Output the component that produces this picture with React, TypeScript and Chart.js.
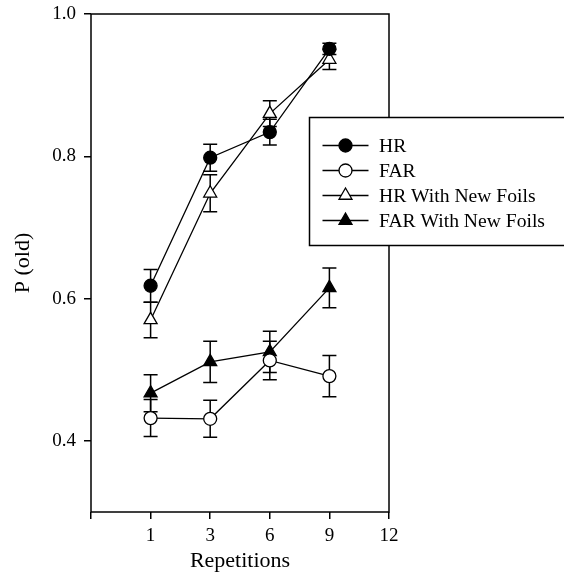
import React, { useEffect, useRef } from "react";
import { Chart, registerables } from "chart.js";

Chart.register(...registerables);

const categories = ["1", "3", "6", "9"];
const xTickLabels = ["", "1", "3", "6", "9", "12"];
const yTicks = [0.4, 0.6, 0.8, 1.0];

const hr = [0.618, 0.798, 0.834, 0.951];
const hrErr = [0.023, 0.019, 0.018, 0.008];
const far = [0.432, 0.431, 0.513, 0.491];
const farErr = [0.026, 0.026, 0.027, 0.029];
const hrNew = [0.57, 0.748, 0.86, 0.936];
const hrNewErr = [0.025, 0.026, 0.018, 0.014];
const farNew = [0.467, 0.511, 0.525, 0.615];
const farNewErr = [0.026, 0.029, 0.029, 0.028];

const FONT = "'Liberation Serif', 'Times New Roman', serif";

type Series = {
  label: string;
  values: number[];
  errs: number[];
  style: "circle" | "triangle";
  filled: boolean;
};

const series: Series[] = [
  { label: "HR", values: hr, errs: hrErr, style: "circle", filled: true },
  { label: "FAR", values: far, errs: farErr, style: "circle", filled: false },
  { label: "HR With New Foils", values: hrNew, errs: hrNewErr, style: "triangle", filled: false },
  { label: "FAR With New Foils", values: farNew, errs: farNewErr, style: "triangle", filled: true },
];

function drawMarker(ctx: CanvasRenderingContext2D, style: string, filled: boolean, x: number, y: number, r: number) {
  ctx.beginPath();
  if (style === "circle") {
    ctx.arc(x, y, r, 0, Math.PI * 2);
  } else {
    let rad = 0;
    ctx.moveTo(x + Math.sin(rad) * r, y - Math.cos(rad) * r);
    rad += (2 * Math.PI) / 3;
    ctx.lineTo(x + Math.sin(rad) * r, y - Math.cos(rad) * r);
    rad += (2 * Math.PI) / 3;
    ctx.lineTo(x + Math.sin(rad) * r, y - Math.cos(rad) * r);
    ctx.closePath();
  }
  ctx.fillStyle = filled ? "#000" : "#fff";
  ctx.fill();
  ctx.lineWidth = 1.3;
  ctx.strokeStyle = "#000";
  ctx.stroke();
}

const errorBarPlugin = {
  id: "errorBars",
  beforeDatasetsDraw(chart: any) {
    const ctx = chart.ctx;
    const xs = chart.scales.x;
    const ys = chart.scales.y;
    ctx.save();
    ctx.strokeStyle = "#000";
    ctx.lineWidth = 1.5;
    series.forEach((s) => {
      s.values.forEach((v, i) => {
        const px = xs.getPixelForValue(i + 1);
        const top = ys.getPixelForValue(v + s.errs[i]);
        const bot = ys.getPixelForValue(v - s.errs[i]);
        ctx.beginPath();
        ctx.moveTo(px, top);
        ctx.lineTo(px, bot);
        ctx.moveTo(px - 7, top);
        ctx.lineTo(px + 7, top);
        ctx.moveTo(px - 7, bot);
        ctx.lineTo(px + 7, bot);
        ctx.stroke();
      });
    });
    ctx.restore();
  },
};

const framePlugin = {
  id: "frame",
  afterDraw(chart: any) {
    const { ctx, chartArea } = chart;
    ctx.save();
    ctx.strokeStyle = "#000";
    ctx.lineWidth = 1.5;
    ctx.strokeRect(chartArea.left, chartArea.top, chartArea.right - chartArea.left, chartArea.bottom - chartArea.top);

    // legend box
    const bx = 309.5;
    const by = 117.5;
    const bw = 300;
    const bh = 128;
    ctx.fillStyle = "#fff";
    ctx.fillRect(bx, by, bw, bh);
    ctx.strokeRect(bx, by, bw, bh);

    ctx.font = `19.6px ${FONT}`;
    ctx.textBaseline = "middle";
    ctx.textAlign = "left";
    chart.data.datasets.forEach((ds: any, i: number) => {
      const s = series[i];
      const y = 145.5 + i * 25;
      ctx.beginPath();
      ctx.lineWidth = 1.3;
      ctx.moveTo(322.5, y);
      ctx.lineTo(368.5, y);
      ctx.stroke();
      drawMarker(ctx, s.style, s.filled, 345.5, y, s.style === "circle" ? 6.5 : 7.5);
      ctx.fillStyle = "#000";
      ctx.fillText(ds.label, 379, y + 1);
    });
    ctx.restore();
  },
};

export default function App() {
  const ref = useRef<HTMLCanvasElement | null>(null);
  useEffect(() => {
    if (!ref.current) return;
    const chart = new Chart(ref.current, {
      type: "line",
      data: {
        datasets: series.map((s) => ({
          label: s.label,
          data: s.values.map((v, i) => ({ x: categories.indexOf(categories[i]) + 1, y: v })),
          borderColor: "#000",
          borderWidth: 1.3,
          pointStyle: s.style,
          pointRadius: s.style === "circle" ? 6.5 : 7.5,
          pointBackgroundColor: s.filled ? "#000" : "#fff",
          pointBorderColor: "#000",
          pointBorderWidth: 1.3,
          fill: false,
          tension: 0,
        })),
      },
      options: {
        animation: false,
        responsive: false,
        maintainAspectRatio: false,
        layout: { padding: { left: 0, top: 14, right: 175, bottom: 0 } },
        plugins: { legend: { display: false }, tooltip: { enabled: false } },
        scales: {
          x: {
            type: "linear",
            min: 0,
            max: 5,
            afterBuildTicks: (axis: any) => {
              axis.ticks = xTickLabels.map((_, i) => ({ value: i }));
            },
            afterFit: (scale: any) => {
              scale.height = 62;
              scale.paddingLeft = 0;
              scale.paddingRight = 0;
            },
            border: { display: false },
            grid: { drawOnChartArea: false, drawTicks: true, tickLength: 7, color: "#000", lineWidth: 1.5 },
            ticks: {
              color: "#000",
              font: { family: FONT, size: 19 },
              padding: 6,
              maxRotation: 0,
              autoSkip: false,
              callback: (v: any) => xTickLabels[v] ?? "",
            },
            title: {
              display: true,
              text: "Repetitions",
              color: "#000",
              font: { family: FONT, size: 22 },
              padding: { top: 0, bottom: 0 },
            },
          },
          y: {
            type: "linear",
            min: 0.3,
            max: 1.0,
            afterBuildTicks: (axis: any) => {
              axis.ticks = yTicks.map((v) => ({ value: v }));
            },
            afterFit: (scale: any) => {
              scale.width = 91;
              scale.paddingTop = 0;
              scale.paddingBottom = 0;
            },
            border: { display: false },
            grid: { drawOnChartArea: false, drawTicks: true, tickLength: 7, color: "#000", lineWidth: 1.5 },
            ticks: {
              color: "#000",
              font: { family: FONT, size: 19 },
              padding: 8,
              callback: (v: any) => Number(v).toFixed(1),
            },
            title: {
              display: true,
              text: "P (old)",
              color: "#000",
              font: { family: FONT, size: 22 },
              padding: { top: 10, bottom: 0 },
            },
          },
        },
      },
      plugins: [errorBarPlugin, framePlugin],
    } as any);
    return () => chart.destroy();
  }, []);
  return (
    <div style={{ position: "fixed", left: 0, top: 0, width: 564, height: 574, background: "#fff" }}>
      <canvas ref={ref} width={564} height={574} style={{ width: 564, height: 574 }} />
    </div>
  );
}
